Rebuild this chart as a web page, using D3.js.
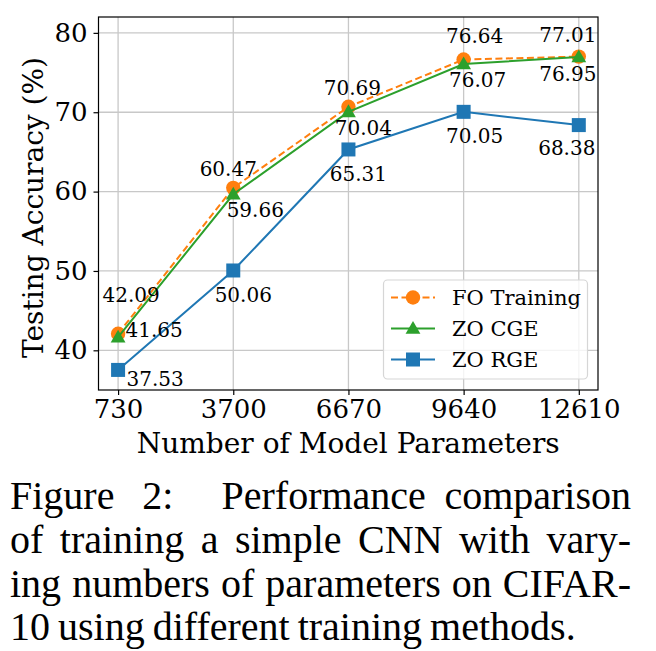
<!DOCTYPE html>
<html>
<head>
<meta charset="utf-8">
<script src="https://cdn.jsdelivr.net/npm/d3@7"></script>
<style>
  html, body { margin: 0; padding: 0; background: #fff; }
  svg { display: block; }
</style>
</head>
<body>
<svg id="chart" width="656" height="651"></svg>
<script>
// ---------- data ----------
const params = [730, 3700, 6670, 9640, 12610];
const tickLabels = ["730", "3700", "6670", "9640", "12610"];
const foTraining = [42.09, 60.47, 70.69, 76.64, 77.01];
const zoCGE = [41.65, 59.66, 70.04, 76.07, 76.95];
const zoRGE = [37.53, 50.06, 65.31, 70.05, 68.38];
const yTicks = [40, 50, 60, 70, 80];
const seriesNames = ["FO Training", "ZO CGE", "ZO RGE"];
const xLabel = "Number of Model Parameters";
const yLabel = "Testing Accuracy (%)";
const captionLines = [
  ["Figure", "2:", "Performance", "comparison"],
  ["of", "training", "a", "simple", "CNN", "with", "vary-"],
  ["ing", "numbers", "of", "parameters", "on", "CIFAR-"],
  ["10", "using", "different", "training", "methods."]
];

// ---------- layout (not data) ----------
const plot = { left: 98.5, right: 598, top: 17, bottom: 390 };
const labelOffsets = [
  [[13, -39], [-5, -19], [4, -19], [11, -24], [-11, -22]],
  [[36, -7], [22, 16], [15, 16], [14, 16], [-11, 17]],
  [[37, 9], [10, 24], [10, 24], [11, 24], [-12, 23]]
];
const colors = ["#ff7f0e", "#2ca02c", "#1f77b4"];
const serif = "'DejaVu Serif', serif";

const svg = d3.select("#chart");
svg.append("rect").attr("width", 656).attr("height", 651).attr("fill", "#fff");

const x = d3.scaleLinear().domain([225, 13105]).range([plot.left, plot.right]);
const y = d3.scaleLinear().domain([35, 82]).range([plot.bottom, plot.top]);

// grid
const g = svg.append("g");
g.selectAll("line.gx").data(params).join("line")
  .attr("x1", d => x(d)).attr("x2", d => x(d))
  .attr("y1", plot.top).attr("y2", plot.bottom)
  .attr("stroke", "#c8c8c8").attr("stroke-width", 1.3);
g.selectAll("line.gy").data(yTicks).join("line")
  .attr("y1", d => y(d)).attr("y2", d => y(d))
  .attr("x1", plot.left).attr("x2", plot.right)
  .attr("stroke", "#c8c8c8").attr("stroke-width", 1.3);

// axes
const xAxis = d3.axisBottom(x).tickValues(params).tickFormat((d, i) => tickLabels[i])
  .tickSizeInner(5).tickSizeOuter(0).tickPadding(5);
const yAxis = d3.axisLeft(y).tickValues(yTicks).tickFormat(d3.format("d"))
  .tickSizeInner(5).tickSizeOuter(0).tickPadding(6);

const gx = svg.append("g").attr("transform", `translate(0,${plot.bottom})`).call(xAxis);
const gy = svg.append("g").attr("transform", `translate(${plot.left},0)`).call(yAxis);
[gx, gy].forEach(a => {
  a.select(".domain").remove();
  a.selectAll(".tick line").attr("stroke", "#000").attr("stroke-width", 1.2);
  a.selectAll(".tick text").attr("font-family", serif).attr("font-size", 26).attr("fill", "#000");
});

// frame
svg.append("rect")
  .attr("x", plot.left).attr("y", plot.top)
  .attr("width", plot.right - plot.left).attr("height", plot.bottom - plot.top)
  .attr("fill", "none").attr("stroke", "#000").attr("stroke-width", 1.2);

// axis labels
svg.append("text").attr("x", (plot.left + plot.right) / 2).attr("y", 453)
  .attr("text-anchor", "middle").attr("font-family", serif).attr("font-size", 28)
  .text(xLabel);
svg.append("text")
  .attr("transform", `translate(43,${(plot.top + plot.bottom) / 2 + 4}) rotate(-90)`)
  .attr("text-anchor", "middle").attr("font-family", serif).attr("font-size", 28)
  .text(yLabel);

// series
const allSeries = [foTraining, zoCGE, zoRGE];
const line = d3.line().x((d, i) => x(params[i])).y(d => y(d));

function drawMarker(sel, k, cx, cy) {
  if (k === 0) {
    sel.append("circle").attr("cx", cx).attr("cy", cy).attr("r", 7.2).attr("fill", colors[0]);
  } else if (k === 1) {
    const s = d3.symbol().type(d3.symbolTriangle).size(95);
    sel.append("path").attr("d", s()).attr("transform", `translate(${cx},${cy + 1})`).attr("fill", colors[1]);
  } else {
    sel.append("rect").attr("x", cx - 7).attr("y", cy - 7).attr("width", 14).attr("height", 14).attr("fill", colors[2]);
  }
}

allSeries.forEach((vals, k) => {
  const sg = svg.append("g");
  sg.append("path").datum(vals).attr("d", line)
    .attr("fill", "none").attr("stroke", colors[k]).attr("stroke-width", 2)
    .attr("stroke-dasharray", k === 0 ? "7,3.5" : null);
  vals.forEach((v, i) => drawMarker(sg, k, x(params[i]), y(v)));
});

// value labels
allSeries.forEach((vals, k) => {
  vals.forEach((v, i) => {
    const [dx, dy] = labelOffsets[k][i];
    svg.append("text")
      .attr("x", x(params[i]) + dx).attr("y", y(v) + dy).attr("dy", "0.36em")
      .attr("text-anchor", "middle").attr("font-family", serif).attr("font-size", 20)
      .text(v.toFixed(2));
  });
});

// legend
const lg = svg.append("g");
lg.append("rect").attr("x", 383.5).attr("y", 280).attr("width", 204).attr("height", 99)
  .attr("rx", 4).attr("fill", "#fff").attr("fill-opacity", 0.8)
  .attr("stroke", "#d6d6d6").attr("stroke-width", 1.2);
const rowY = [297.5, 328.5, 359.5];
seriesNames.forEach((name, k) => {
  lg.append("line").attr("x1", 391).attr("x2", 435).attr("y1", rowY[k]).attr("y2", rowY[k])
    .attr("stroke", colors[k]).attr("stroke-width", 2)
    .attr("stroke-dasharray", k === 0 ? "7,3.5" : null);
  drawMarker(lg, k, 413, rowY[k]);
  lg.append("text").attr("x", 452).attr("y", rowY[k]).attr("dy", "0.36em")
    .attr("font-family", serif).attr("font-size", 21).text(name);
});

// caption (justified)
const capFont = "'Liberation Serif', 'Times New Roman', serif";
const capLeft = 10, capRight = 631;
const baselines = [509, 553, 597, 640];
const cg = svg.append("g");
captionLines.forEach((words, li) => {
  const nodes = words.map(w => cg.append("text").attr("font-family", capFont)
    .attr("font-size", 40).attr("y", baselines[li]).text(w));
  const widths = nodes.map(n => n.node().getComputedTextLength());
  const total = d3.sum(widths);
  let gaps;
  if (li === captionLines.length - 1) {
    gaps = words.slice(1).map(() => 8);
  } else {
    const weights = li === 0 ? [1.5, 2.6, 1] : words.slice(1).map(() => 1);
    const free = (capRight - capLeft) - total;
    const wsum = d3.sum(weights);
    gaps = weights.map(w => free * w / wsum);
  }
  let cx = capLeft;
  nodes.forEach((n, i) => {
    n.attr("x", cx);
    cx += widths[i] + (i < gaps.length ? gaps[i] : 0);
  });
});
</script>
</body>
</html>
